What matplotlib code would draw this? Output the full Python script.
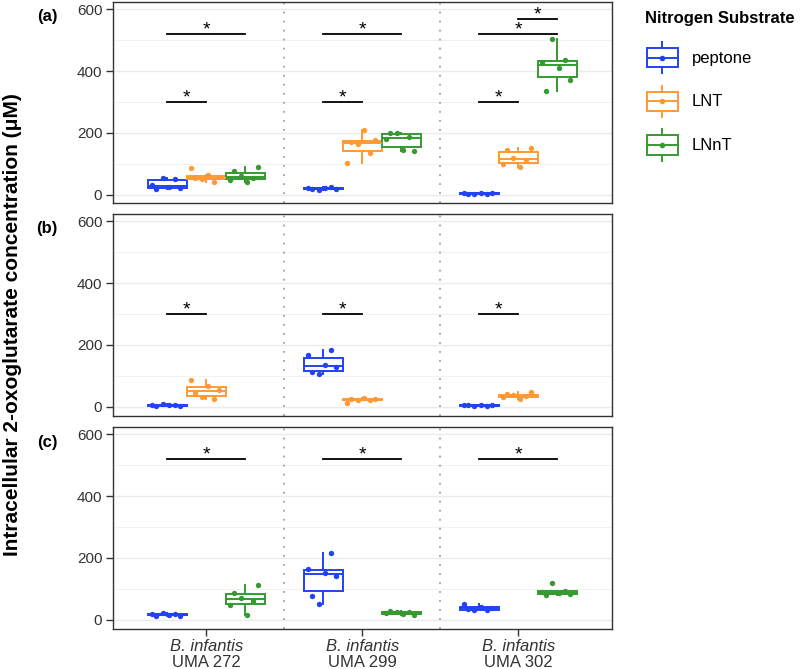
import matplotlib
matplotlib.use("Agg")
import matplotlib.pyplot as plt
from matplotlib.legend_handler import HandlerBase
from matplotlib.lines import Line2D
from matplotlib.patches import Rectangle
import numpy as np

plt.rcParams['font.family'] = ['Liberation Sans', 'DejaVu Sans']

strains = ["UMA 272", "UMA 299", "UMA 302"]
substrates = ["peptone", "LNT", "LNnT"]
colors = {"peptone": "#2142F5", "LNT": "#FF9A33", "LNnT": "#359A2F"}

# replicate values (uM), one list per strain
a_peptone = [[18, 22, 25, 30, 52, 55], [16, 18, 19, 20, 21, 23], [1, 2, 3, 4, 5, 6]]
a_lnt = [[40, 50, 53, 56, 62, 87], [103, 136, 163, 170, 176, 210], [88, 100, 112, 120, 145, 150]]
a_lnnt = [[42, 48, 55, 60, 75, 88], [141, 145, 180, 188, 198, 201], [335, 372, 410, 431, 435, 503]]

b_peptone = [[2, 3, 4, 5, 6, 8], [107, 112, 128, 134, 166, 184], [2, 3, 4, 5, 5, 6]]
b_lnt = [[25, 30, 45, 55, 66, 85], [12, 20, 22, 23, 25, 27], [26, 30, 33, 36, 40, 46]]

c_peptone = [[10, 13, 15, 17, 19, 21], [49, 77, 142, 150, 164, 216], [30, 32, 34, 38, 42, 51]]
c_lnnt = [[16, 46, 60, 70, 87, 111], [14, 18, 21, 23, 25, 28], [78, 82, 85, 89, 92, 118]]

# significance bars: (strain index, from, to, height)
a_sig = [(0, "peptone", "LNT", 300), (0, "peptone", "LNnT", 520),
         (1, "peptone", "LNT", 300), (1, "peptone", "LNnT", 520),
         (2, "peptone", "LNT", 300), (2, "peptone", "LNnT", 520),
         (2, "LNT", "LNnT", 569)]
b_sig = [(0, "peptone", "LNT", 300), (1, "peptone", "LNT", 300), (2, "peptone", "LNT", 300)]
c_sig = [(0, "peptone", "LNnT", 520), (1, "peptone", "LNnT", 520), (2, "peptone", "LNnT", 520)]

dodge = {"peptone": -0.25, "LNT": 0.0, "LNnT": 0.25}
jit = np.array([-0.07, 0.08, 0.01, -0.10, 0.05, -0.03])
LW = 1.4


class BoxKey(HandlerBase):
    def create_artists(self, legend, orig_handle, xdescent, ydescent,
                       width, height, fontsize, trans):
        c = orig_handle.get_color()
        x0, y0 = -xdescent, -ydescent
        bh = height * 0.62
        by = y0 + (height - bh) / 2
        cx = x0 + width / 2
        cy = y0 + height / 2
        return [Rectangle((x0, by), width, bh, facecolor='white', edgecolor=c, lw=LW, transform=trans),
                Line2D([cx, cx], [y0, by], color=c, lw=LW, transform=trans),
                Line2D([cx, cx], [by + bh, y0 + height], color=c, lw=LW, transform=trans),
                Line2D([x0, x0 + width], [cy, cy], color=c, lw=LW, transform=trans),
                Line2D([cx], [cy], marker='o', ms=3, color=c, transform=trans)]


def draw_panel(ax, series, sigs, bottom=False):
    for name, groups in series:
        c = colors[name]
        k = substrates.index(name)
        for i, vals in enumerate(groups):
            pos = i + 1 + dodge[name]
            ax.boxplot([vals], positions=[pos], widths=0.25, whis=1.5, showfliers=False,
                       showcaps=False, patch_artist=True, manage_ticks=False,
                       boxprops=dict(facecolor='white', edgecolor=c, linewidth=LW),
                       medianprops=dict(color=c, linewidth=LW),
                       whiskerprops=dict(color=c, linewidth=LW), zorder=2)
            ax.scatter(pos + np.roll(jit, i + 2 * k), vals, s=15, color=c, linewidths=0, zorder=3)
    for i, s1, s2, y in sigs:
        x1 = i + 1 + dodge[s1]
        x2 = i + 1 + dodge[s2]
        ax.plot([x1, x2], [y, y], color='black', lw=1.3, zorder=4)
        ax.annotate('*', xy=((x1 + x2) / 2, y), xytext=(0, 3), textcoords='offset points',
                    ha='center', va='center', fontsize=14)

    ax.set_xlim(0.4, 3.6)
    ax.set_ylim(-29, 624)
    ax.set_yticks([0, 200, 400, 600])
    ax.set_yticks([100, 300, 500], minor=True)
    ax.grid(which='major', axis='y', color='#EBEBEB', lw=1.0)
    ax.grid(which='minor', axis='y', color='#F2F2F2', lw=0.7)
    ax.set_axisbelow(True)
    for sp in ax.spines.values():
        sp.set_color('#333333')
        sp.set_linewidth(1.0)
    for xv in (1.5, 2.5):
        ax.axvline(xv, color='#A0A0A0', ls=(0, (1, 4)), lw=1.3, zorder=1)
    ax.tick_params(axis='y', which='major', length=5, width=1, color='#333333',
                   labelsize=11, labelcolor='#333333', pad=2.5)
    ax.tick_params(axis='y', which='minor', length=0)
    if bottom:
        ax.set_xticks([1, 2, 3])
        ax.set_xticklabels([])
        ax.tick_params(axis='x', length=5, width=1, color='#333333')
        for i, s in enumerate(strains):
            ax.annotate('B. infantis', xy=(i + 1, 0), xycoords=('data', 'axes fraction'),
                        xytext=(0, -13), textcoords='offset points', ha='center', va='center',
                        fontsize=12, style='italic', color='#333333')
            ax.annotate(s, xy=(i + 1, 0), xycoords=('data', 'axes fraction'),
                        xytext=(0, -24.5), textcoords='offset points', ha='center', va='center',
                        fontsize=12, color='#333333')
    else:
        ax.set_xticks([])


fig = plt.figure(figsize=(8, 6.69), dpi=100)
left, width = 112.7 / 800, 499 / 800
tops = [2, 214, 427]
h = 201.5
axes = [fig.add_axes([left, 1 - (t + h) / 669, width, h / 669]) for t in tops]

draw_panel(axes[0], [("peptone", a_peptone), ("LNT", a_lnt), ("LNnT", a_lnnt)], a_sig)
draw_panel(axes[1], [("peptone", b_peptone), ("LNT", b_lnt)], b_sig)
draw_panel(axes[2], [("peptone", c_peptone), ("LNnT", c_lnnt)], c_sig, bottom=True)

for lab, t in zip(["(a)", "(b)", "(c)"], tops):
    fig.text(47 / 800, 1 - (t + 15) / 669, lab, ha='center', va='center',
             fontsize=12, fontweight='bold')

fig.text(13 / 800, 1 - 325 / 669, 'Intracellular 2-oxoglutarate concentration (μM)',
         rotation=90, ha='center', va='center', fontsize=15, fontweight='bold')

fig.text(645 / 800, 1 - 18 / 669, 'Nitrogen Substrate', ha='left', va='center',
         fontsize=12, fontweight='bold')
handles = [Line2D([], [], color=colors[s]) for s in substrates]
fig.legend(handles, substrates, handler_map={Line2D: BoxKey()}, loc='upper left',
           bbox_to_anchor=(647 / 800, 1 - 42 / 669), frameon=False, fontsize=12,
           handlelength=1.85, handleheight=2.5, labelspacing=0.75,
           handletextpad=0.85, borderpad=0, borderaxespad=0)

fig.savefig('out.png', dpi=100)
